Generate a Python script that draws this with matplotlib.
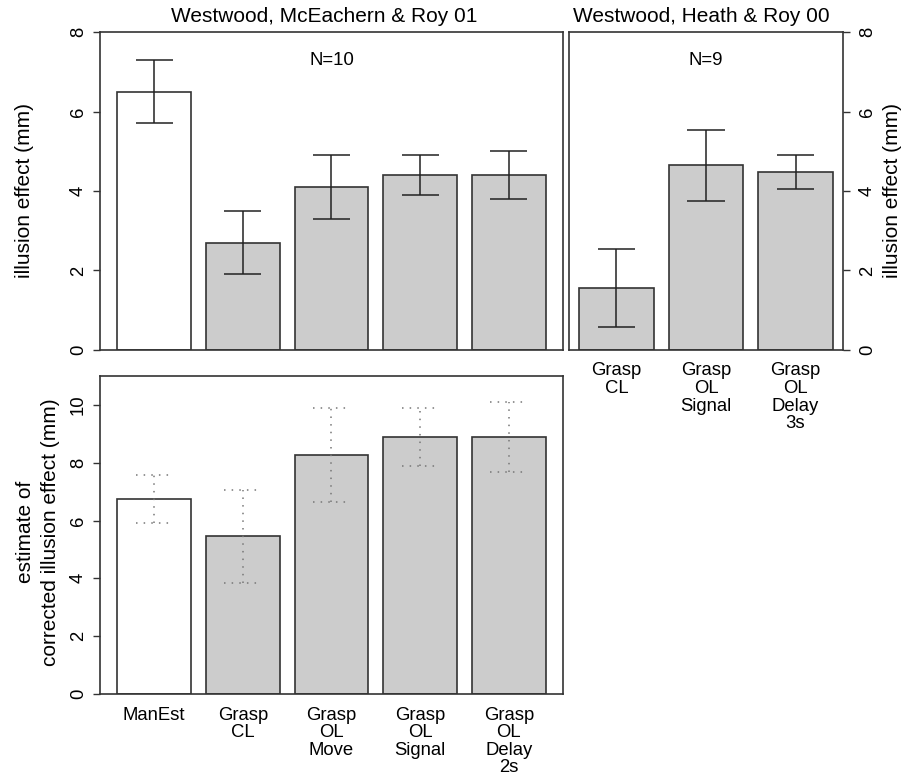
import matplotlib
matplotlib.use("Agg")
import matplotlib.pyplot as plt

plt.rcParams['font.family'] = ['Liberation Sans', 'DejaVu Sans']

# Westwood, McEachern & Roy 01
nombres_a = ["ManEst", "Grasp\nCL", "Grasp\nOL\nMove", "Grasp\nOL\nSignal", "Grasp\nOL\nDelay\n2s"]
efecto_a = [6.5, 2.7, 4.1, 4.4, 4.4]
error_a = [0.8, 0.8, 0.8, 0.5, 0.6]
corregido_a = [6.74, 5.45, 8.28, 8.89, 8.89]
error_corr_a = [0.82, 1.62, 1.63, 1.02, 1.22]

# Westwood, Heath & Roy 00
nombres_b = ["Grasp\nCL", "Grasp\nOL\nSignal", "Grasp\nOL\nDelay\n3s"]
efecto_b = [1.55, 4.65, 4.47]
error_b = [0.98, 0.89, 0.43]

colores_a = ["white", "#cccccc", "#cccccc", "#cccccc", "#cccccc"]
colores_b = ["#cccccc", "#cccccc", "#cccccc"]

BORDE = "#333333"
W, H = 904, 776


def posiciones(n):
    # como barplot de R: ancho 1, espacio 0.2
    return [0.7 + 1.2 * i for i in range(n)]


def limites(n):
    izq, der = 0.2, 0.2 + 1.2 * n - 0.2
    r = der - izq
    return izq - 0.04 * r, der + 0.04 * r


def barras(ax, valores, errores, colores, estilo="-", color_err="#222222"):
    xs = posiciones(len(valores))
    ax.bar(xs, valores, width=1.0, color=colores, edgecolor=BORDE, linewidth=1.2, zorder=2)
    lo = [v - e for v, e in zip(valores, errores)]
    hi = [v + e for v, e in zip(valores, errores)]
    ax.vlines(xs, lo, hi, colors=color_err, linestyles=estilo, linewidth=1.1, zorder=3)
    ax.hlines(hi, [x - 0.25 for x in xs], [x + 0.25 for x in xs], colors=color_err,
              linestyles=estilo, linewidth=1.1, zorder=3)
    ax.hlines(lo, [x - 0.25 for x in xs], [x + 0.25 for x in xs], colors=color_err,
              linestyles=estilo, linewidth=1.1, zorder=3)
    ax.set_xlim(*limites(len(valores)))
    return xs


def caja(ax):
    for s in ax.spines.values():
        s.set_color(BORDE)
        s.set_linewidth(1.2)
    ax.tick_params(axis='y', direction='out', length=5, width=1.0, color=BORDE,
                   labelsize=13.3, labelrotation=90)


def rect(x0, y0, x1, y1):
    return [x0 / W, 1 - y1 / H, (x1 - x0) / W, (y1 - y0) / H]


fig = plt.figure(figsize=(W / 100, H / 100), dpi=100)
ax1 = fig.add_axes(rect(100, 32, 563, 350))
ax2 = fig.add_axes(rect(569, 32, 843, 350))
ax3 = fig.add_axes(rect(100, 376, 563, 694))

# panel arriba izquierda
barras(ax1, efecto_a, error_a, colores_a)
ax1.set_ylim(0, 8)
ax1.set_yticks([0, 2, 4, 6, 8])
ax1.set_xticks([])
caja(ax1)
ax1.tick_params(axis='y', pad=4.5)
for t in ax1.get_yticklabels():
    t.set_va('center')
ax1.text(-0.162, 0.5, "illusion effect (mm)", transform=ax1.transAxes, rotation=90,
         ha='center', va='center', fontsize=15)
ax1.text(0.5, 0.91, "N=10", transform=ax1.transAxes, ha='center', va='center', fontsize=13.4)
ax1.text(0.485, 1.02, "Westwood, McEachern & Roy 01", transform=ax1.transAxes,
         ha='center', va='bottom', fontsize=15)

# panel arriba derecha
xs_b = barras(ax2, efecto_b, error_b, colores_b)
ax2.set_ylim(0, 8)
ax2.set_yticks([0, 2, 4, 6, 8])
ax2.yaxis.tick_right()
ax2.set_xticks(xs_b)
ax2.set_xticklabels(nombres_b)
caja(ax2)
ax2.tick_params(axis='y', pad=6.5)
for t in ax2.get_yticklabels():
    t.set_va('center')
ax2.tick_params(axis='x', length=0, pad=9, labelsize=13.3)
for t in ax2.get_xticklabels():
    t.set_linespacing(1.05)
ax2.text(1.182, 0.5, "illusion effect (mm)", transform=ax2.transAxes, rotation=90,
         ha='center', va='center', fontsize=15)
ax2.text(0.5, 0.91, "N=9", transform=ax2.transAxes, ha='center', va='center', fontsize=13.4)
ax2.text(0.482, 1.02, "Westwood, Heath & Roy 00", transform=ax2.transAxes,
         ha='center', va='bottom', fontsize=15)

# panel abajo
xs_a = barras(ax3, corregido_a, error_corr_a, colores_a, estilo=(0, (1, 4)), color_err="#777777")
ax3.set_ylim(0, 11)
ax3.set_yticks([0, 2, 4, 6, 8, 10])
ax3.set_xticks(xs_a)
ax3.set_xticklabels(nombres_a)
caja(ax3)
ax3.tick_params(axis='y', pad=4.5)
for t in ax3.get_yticklabels():
    t.set_va('center')
ax3.tick_params(axis='x', length=0, pad=9, labelsize=13.3)
for t in ax3.get_xticklabels():
    t.set_linespacing(1.05)
ax3.text(-0.134, 0.51, "estimate of\ncorrected illusion effect (mm)", transform=ax3.transAxes,
         rotation=90, ha='center', va='center', fontsize=15, linespacing=1.4)

fig.savefig("out.png", dpi=100)
